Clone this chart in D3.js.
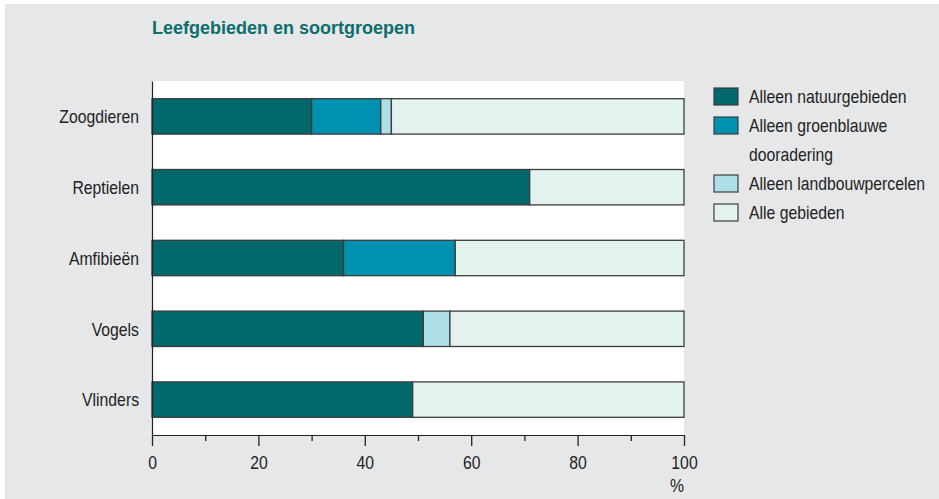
<!DOCTYPE html>
<html>
<head>
<meta charset="utf-8">
<script src="https://cdn.jsdelivr.net/npm/d3@7"></script>
<style>
  body { margin: 0; background: #ffffff; }
  svg { display: block; font-family: "Liberation Sans", Arial, sans-serif; }
</style>
</head>
<body>
<div id="chart"></div>
<script>
const width = 939,
  height = 499;

// data
const categories = ['Zoogdieren', 'Reptielen', 'Amfibieën', 'Vogels', 'Vlinders'];
const natuur = [30, 71, 36, 51, 49];
const groenblauw = [13, 0, 21, 0, 0];
const landbouw = [2, 0, 0, 5, 0];
const alle = [55, 29, 43, 44, 51];
const seriesKeys = ['natuur', 'groenblauw', 'landbouw', 'alle'];
const seriesLabels = [
  ['Alleen natuurgebieden'],
  ['Alleen groenblauwe', 'dooradering'],
  ['Alleen landbouwpercelen'],
  ['Alle gebieden']
];
const xTicks = [0, 20, 40, 60, 80, 100];
const title = 'Leefgebieden en soortgroepen';

const colors = ['#00686b', '#0091b0', '#afdfe6', '#e2f2ef'];

// the labels use a narrow face: regular font squeezed horizontally
const fs = 19,
  sx = 0.83;

const data = categories.map((c, i) => ({
  cat: c,
  natuur: natuur[i],
  groenblauw: groenblauw[i],
  landbouw: landbouw[i],
  alle: alle[i]
}));

const margin = { top: 81, left: 152, right: 255, bottom: 64 };
const plotW = width - margin.left - margin.right;
const plotH = height - margin.top - margin.bottom;

const svg = d3
  .select('#chart')
  .append('svg')
  .attr('width', width)
  .attr('height', height);

// grey panel, thin white strip on the left and top
svg.append('rect').attr('x', 5).attr('y', 4).attr('width', width - 5).attr('height', height - 4).attr('fill', '#e6e7e9');

svg
  .append('text')
  .attr('x', 152)
  .attr('y', 34)
  .attr('fill', '#0b6e6d')
  .attr('font-weight', 'bold')
  .attr('font-size', 18)
  .text(title);

const g = svg.append('g').attr('transform', `translate(${margin.left},${margin.top})`);

// plot background
g.append('rect').attr('width', plotW).attr('height', plotH).attr('fill', '#ffffff');

let x = d3.scaleLinear().domain([0, 100]).range([0, plotW]);
let y = d3.scaleBand().domain(categories).range([0, plotH]).paddingInner(0.5).paddingOuter(0.25);

const stacked = d3.stack().keys(seriesKeys)(data);

stacked.forEach((s, si) => {
  g.append('g')
    .selectAll('rect')
    .data(s.filter((d) => d[1] - d[0] > 0))
    .enter()
    .append('rect')
    .attr('x', (d) => x(d[0]))
    .attr('y', (d) => y(d.data.cat))
    .attr('width', (d) => x(d[1]) - x(d[0]))
    .attr('height', y.bandwidth())
    .attr('fill', colors[si])
    .attr('stroke', '#3c3c3c')
    .attr('stroke-width', 1.3);
});

// x axis: minor ticks every 10, major (labelled) every 20
let xAxis = (sel) =>
  sel
    .attr('transform', `translate(0,${plotH})`)
    .call(d3.axisBottom(x).tickValues(d3.range(0, 101, 10)).tickSize(6).tickSizeOuter(0).tickFormat((d) => (xTicks.includes(d) ? d : '')))
    .attr('font-family', null)
    .call((s) => s.select('.domain').attr('stroke', '#222').attr('stroke-width', 1.2))
    .call((s) =>
      s
        .selectAll('.tick line')
        .attr('stroke', '#222')
        .attr('stroke-width', 1.3)
        .attr('y2', (d) => (xTicks.includes(d) ? 11 : 6))
    )
    .call((s) =>
      s
        .selectAll('.tick text')
        .attr('font-size', fs)
        .attr('fill', '#222')
        .attr('y', 34)
        .attr('dy', null)
        .attr('transform', `scale(${sx},1)`)
    );

g.append('g').call(xAxis);

g.append('text')
  .attr('transform', `translate(${plotW},${plotH + 57}) scale(${sx},1)`)
  .attr('text-anchor', 'end')
  .attr('font-size', fs)
  .attr('fill', '#222')
  .text('%');

// y axis
let yAxis = (sel) =>
  sel
    .call(d3.axisLeft(y).tickSize(0).tickPadding(13))
    .attr('font-family', null)
    .call((s) => s.select('.domain').attr('stroke', '#222').attr('stroke-width', 1.2))
    .call((s) =>
      s
        .selectAll('.tick text')
        .attr('font-size', fs)
        .attr('fill', '#222')
        .attr('x', -13 / sx)
        .attr('dy', '0.36em')
        .attr('transform', `scale(${sx},1)`)
    );

g.append('g').call(yAxis);

// legend
const legend = svg.append('g').attr('transform', 'translate(714,88)');
let ly = 0;
seriesLabels.forEach((lines, i) => {
  legend
    .append('rect')
    .attr('x', 0)
    .attr('y', ly)
    .attr('width', 24)
    .attr('height', 17)
    .attr('fill', colors[i])
    .attr('stroke', '#3c3c3c')
    .attr('stroke-width', 1.2);
  lines.forEach((t, j) => {
    legend
      .append('text')
      .attr('transform', `translate(35,${ly + 15 + j * 29}) scale(${sx},1)`)
      .attr('font-size', fs)
      .attr('fill', '#222')
      .text(t);
  });
  ly += lines.length * 29;
});
</script>
</body>
</html>
